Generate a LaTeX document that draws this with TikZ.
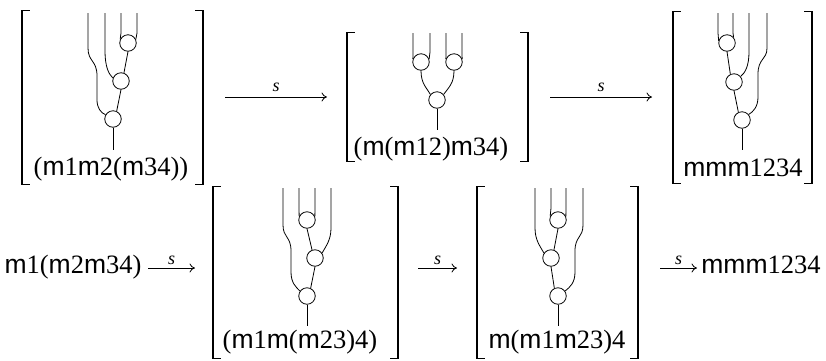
\documentclass[tikz,border=0pt]{standalone}
\usepackage{fontspec}
\setmainfont{Liberation Serif}
\newfontfamily\rmf{Liberation Serif}
\newfontfamily\sfm{Liberation Sans}
\usetikzlibrary{arrows.meta}
\newcommand\mm{{\sfm m}}
\begin{document}
\begin{tikzpicture}[x=1pt,y=-1pt,
  gate/.style={circle,draw,line width=0.8pt,minimum size=16.5pt,inner sep=0pt},
  wire/.style={line width=0.8pt},
  brkv/.style={line width=1.7pt},
  brkt/.style={line width=1pt},
  lbl/.style={font=\rmf\fontsize{26.5}{30}\selectfont,inner sep=0pt,anchor=base},
  arr/.style={line width=0.8pt,-{To[length=5.5pt,width=9pt]}},
  slab/.style={font=\rmf\fontsize{18}{20}\selectfont\itshape,inner sep=0pt,anchor=base},
  area/.style n args={2}{inner sep=0pt,minimum width=#1pt,minimum height=#2pt}
]
\useasboundingbox (0,0) rectangle (826,360);
\newcommand\brackets[1]{%
  \draw[brkt] ([xshift=8pt]#1.north west) -- (#1.north west) -- (#1.south west) -- ([xshift=8pt]#1.south west);
  \draw[brkt] ([xshift=-8pt]#1.north east) -- (#1.north east) -- (#1.south east) -- ([xshift=-8pt]#1.south east);
  \draw[brkv] (#1.north west) -- (#1.south west);
  \draw[brkv] (#1.north east) -- (#1.south east);}

% ---------- boxes ----------
\node[area={181}{173}] (B1) at (112.5,97.5) {};
\node[area={181}{128}] (B2) at (437.5,97) {};
\node[area={139}{171}] (B3) at (742.5,97.5) {};
\node[area={185}{171}] (B4) at (305.5,272.5) {};
\node[area={161}{171}] (B5) at (557.5,272.5) {};
\brackets{B1}\brackets{B2}\brackets{B3}\brackets{B4}\brackets{B5}

% ---------- texts ----------
\node[lbl] (T1) at (111,175) {(\mm1\mm2(\mm34))};
\node[lbl] (T2) at (431,155) {(\mm(\mm12)\mm34)};
\node[lbl] (T3) at (743,176) {\mm\mm\mm1234};
\node[lbl] (T4) at (300,348) {(\mm1\mm(\mm23)4)};
\node[lbl] (T5) at (557,348) {\mm(\mm1\mm23)4};
\node[lbl] (L)  at (73,273) {\mm1(\mm2\mm34)};
\node[lbl] (R)  at (761,273) {\mm\mm\mm1234};

% ---------- arrows ----------
\coordinate (a1s) at (225,97);  \coordinate (a1e) at (327,97);
\coordinate (a2s) at (550,97);  \coordinate (a2e) at (652,97);
\coordinate (a3s) at (148,268); \coordinate (a3e) at (195,268);
\coordinate (a4s) at (418,268); \coordinate (a4e) at (457,268);
\coordinate (a5s) at (660,268); \coordinate (a5e) at (697,268);
\draw[arr] (a1s) -- node[slab,yshift=6pt] {s} (a1e);
\draw[arr] (a2s) -- node[slab,yshift=6pt] {s} (a2e);
\draw[arr] (a3s) -- node[slab,yshift=3.5pt] {s} (a3e);
\draw[arr] (a4s) -- node[slab,yshift=3.5pt] {s} (a4e);
\draw[arr] (a5s) -- node[slab,yshift=3.5pt] {s} (a5e);

% ---------- tree 1 ----------
\node[gate] (g11) at (128,43) {};
\node[gate] (g12) at (121,81) {};
\node[gate] (g13) at (113,119) {};
\coordinate (t11) at (88,13); \coordinate (t12) at (105,13);
\coordinate (t13) at (121,13); \coordinate (t14) at (137,13);
\coordinate (r1) at (113,150);
\draw[wire] (t13) -- (121,33) -- (g11.155);
\draw[wire] (t14) -- (137,33) -- (g11.25);
\draw[wire] (g11.south) -- (g12.70);
\draw[wire] (t12) -- (105,50) .. controls (105,68) and (109,74) .. (g12.160);
\draw[wire] (t11) -- (88,48) .. controls (88,62) and (97,60) .. (97,76) -- (97,100) .. controls (97,108) and (101,113) .. (g13.150);
\draw[wire] (g12.south) -- (g13.65);
\draw[wire] (g13.south) -- (r1);

% ---------- tree 2 ----------
\node[gate] (g21) at (421,62) {};
\node[gate] (g22) at (454,62) {};
\node[gate] (g23) at (437,100) {};
\coordinate (t21) at (413,33); \coordinate (t22) at (430,33);
\coordinate (t23) at (446,33); \coordinate (t24) at (462,33);
\coordinate (r2) at (437,130);
\draw[wire] (t21) -- (413,52) -- (g21.160);
\draw[wire] (t22) -- (430,52) -- (g21.20);
\draw[wire] (t23) -- (446,52) -- (g22.160);
\draw[wire] (t24) -- (462,52) -- (g22.20);
\draw[wire] (g21.south) .. controls (421,84) and (427,88) .. (g23.140);
\draw[wire] (g22.south) .. controls (454,84) and (448,88) .. (g23.40);
\draw[wire] (g23.south) -- (r2);

% ---------- tree 3 ----------
\node[gate] (g31) at (727,43) {};
\node[gate] (g32) at (734,82) {};
\node[gate] (g33) at (742,120) {};
\coordinate (t31) at (718,13); \coordinate (t32) at (733,13);
\coordinate (t33) at (749,13); \coordinate (t34) at (767,13);
\coordinate (r3) at (742,150);
\draw[wire] (t31) -- (718,33) -- (g31.165);
\draw[wire] (t32) -- (733,33) -- (g31.40);
\draw[wire] (g31.south) -- (g32.115);
\draw[wire] (t33) -- (749,52) .. controls (749,66) and (745,73) .. (g32.40);
\draw[wire] (t34) -- (767,48) .. controls (767,60) and (758,58) .. (758,74) -- (758,97) .. controls (758,107) and (753,112) .. (g33.40);
\draw[wire] (g32.south) -- (g33.115);
\draw[wire] (g33.south) -- (r3);

% ---------- tree 4 ----------
\node[gate] (g41) at (307,220) {};
\node[gate] (g42) at (315,258) {};
\node[gate] (g43) at (307,296) {};
\coordinate (t41) at (283,188); \coordinate (t42) at (299,188);
\coordinate (t43) at (315,188); \coordinate (t44) at (331,188);
\coordinate (r4) at (307,326);
\draw[wire] (t42) -- (299,208) -- (g41.155);
\draw[wire] (t43) -- (315,208) -- (g41.25);
\draw[wire] (g41.south) -- (g42.110);
\draw[wire] (t44) -- (331,228) .. controls (331,240) and (326,246) .. (g42.35);
\draw[wire] (t41) -- (283,225) .. controls (283,238) and (291,236) .. (291,251) -- (291,272) .. controls (291,283) and (296,287) .. (g43.145);
\draw[wire] (g42.south) -- (g43.65);
\draw[wire] (g43.south) -- (r4);

% ---------- tree 5 ----------
\node[gate] (g51) at (558,220) {};
\node[gate] (g52) at (551,258) {};
\node[gate] (g53) at (558,296) {};
\coordinate (t51) at (535,188); \coordinate (t52) at (551,188);
\coordinate (t53) at (566,188); \coordinate (t54) at (583,188);
\coordinate (r5) at (558,326);
\draw[wire] (t52) -- (551,208) -- (g51.155);
\draw[wire] (t53) -- (566,208) -- (g51.25);
\draw[wire] (g51.south) -- (g52.70);
\draw[wire] (t51) -- (535,228) .. controls (535,240) and (540,246) .. (g52.145);
\draw[wire] (t54) -- (583,225) .. controls (583,238) and (575,236) .. (575,251) -- (575,272) .. controls (575,283) and (570,287) .. (g53.35);
\draw[wire] (g52.south) -- (g53.115);
\draw[wire] (g53.south) -- (r5);
\end{tikzpicture}
\end{document}
